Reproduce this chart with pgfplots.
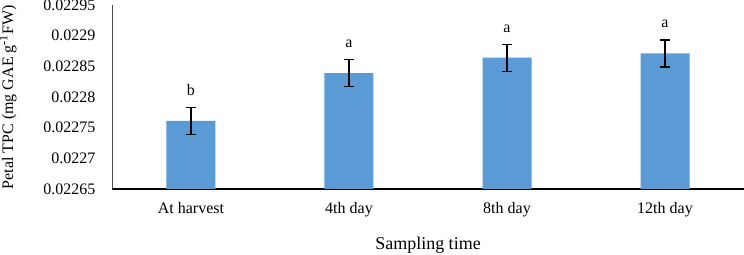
\documentclass[border=0pt]{standalone}
\usepackage{fontspec}
\setmainfont{Liberation Serif}
\usepackage{pgfplots}
\pgfplotsset{compat=1.18}
\definecolor{barblue}{HTML}{5B9BD5}
\begin{document}
\begin{tikzpicture}
\begin{axis}[
  scale only axis,
  width=316pt, height=92pt,
  xmin=-0.5, xmax=3.5,
  ymin=0.02265, ymax=0.02295,
  scaled y ticks=false,
  xtick={0,1,2,3},
  xticklabels={At harvest,4th day,8th day,12th day},
  ytick={0.02265,0.0227,0.02275,0.0228,0.02285,0.0229,0.02295},
  yticklabels={0.02265,0.0227,0.02275,0.0228,0.02285,0.0229,0.02295},
  axis x line*=bottom, axis y line*=left,
  x axis line style={black, line width=0.6pt, -},
  y axis line style={black!70, line width=0.4pt, -},
  major tick length=0pt,
  tick label style={font=\fontsize{8}{9}\selectfont},
  yticklabel style={xshift=-4.8pt},
  xticklabel style={yshift=-3pt},
  ylabel={Petal TPC (mg GAE g\textsuperscript{-1}FW)},
  ylabel style={font=\fontsize{8}{9}\selectfont, at={(axis description cs:-0.1646,0.5)}, anchor=center},
  xlabel={Sampling time},
  xlabel style={font=\fontsize{9}{10}\selectfont, at={(axis description cs:0.5,0)}, anchor=center, yshift=-28pt},
  clip=false,
]
\addplot[ybar, bar width=24.5pt, fill=barblue, draw=none,
  error bars/.cd, y dir=both, y explicit,
  error bar style={black, line width=0.6pt},
  error mark options={rotate=90, mark size=2.5pt, black, line width=0.6pt}]
  coordinates {
  (0,0.022761) +- (0,0.000022)
  (1,0.022839) +- (0,0.000022)
  (2,0.022864) +- (0,0.000022)
  (3,0.022871) +- (0,0.000022)
  };
\node[font=\fontsize{8}{9}\selectfont, anchor=south] at (axis cs:0,0.022783) [yshift=2.5pt] {b};
\node[font=\fontsize{8}{9}\selectfont, anchor=south] at (axis cs:1,0.022861) [yshift=2.5pt] {a};
\node[font=\fontsize{8}{9}\selectfont, anchor=south] at (axis cs:2,0.022886) [yshift=2.5pt] {a};
\node[font=\fontsize{8}{9}\selectfont, anchor=south] at (axis cs:3,0.022893) [yshift=2.5pt] {a};
\end{axis}
\pgfresetboundingbox
\path[use as bounding box] ([xshift=-56pt, yshift=-33pt]current axis.south west) rectangle ([yshift=2.5pt]current axis.north east);
\end{tikzpicture}
\end{document}
